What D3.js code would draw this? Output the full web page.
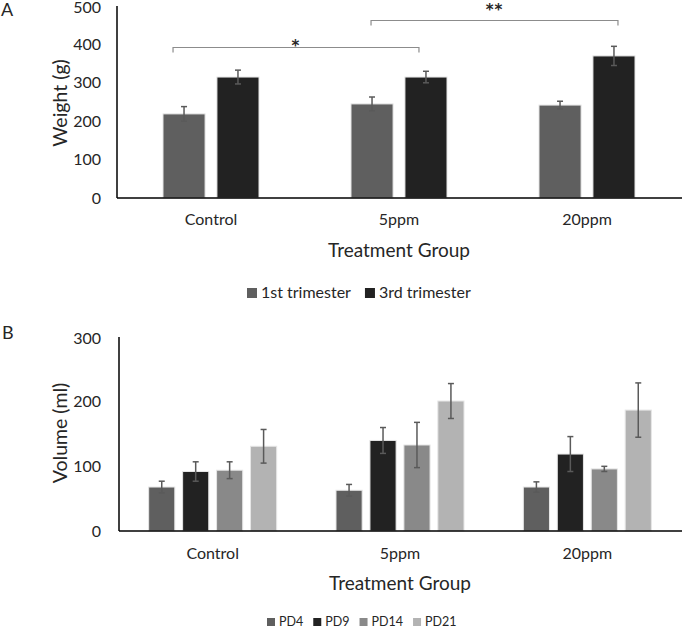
<!DOCTYPE html>
<html><head><meta charset="utf-8">
<script src="https://cdn.jsdelivr.net/npm/d3@7"></script>
<style>body{margin:0;background:#fff}svg{display:block}text{font-family:Lato,"Open Sans",sans-serif;fill:#262626}</style>
</head><body><svg id="c" width="685" height="628"></svg>
<script>
const groups = ["Control","5ppm","20ppm"];
const seriesA = ["1st trimester","3rd trimester"];
const valuesA = [[219,315],[245,315],[242,370]];
const errorsA = [[19,18],[18,15],[10,25]];
const ticksA = [0,100,200,300,400,500];
const seriesB = ["PD4","PD9","PD14","PD21"];
const valuesB = [[68,92,94,131],[63,140,133,201],[68,119,96,187]];
const errorsB = [[9,15,13,26],[9,20,35,27],[8,27,4,42]];
const ticksB = [0,100,200,300];
const sigMarks = ["*","**"];
const sigFrom = [[0,0],[1,0]];   // [group, series]
const sigTo = [[1,1],[2,1]];
const sigLevel = [393,463];
const colors = ["#5f5f5f","#222222","#898989","#b3b3b3"];

const svg = d3.select("#c");

function panel(o){
  const g = svg.append("g");
  const x = d3.scaleBand().domain(groups).range([o.left,o.right]);
  const y = d3.scaleLinear().domain([0,o.max]).range([o.bottom,o.top]);
  const inner = d3.scaleBand().domain(o.series).range([0,o.groupW]).paddingInner(o.pad);
  const barX = (gi,si)=> x(groups[gi]) + x.bandwidth()/2 - o.groupW/2 + inner(o.series[si]);
  const ya = d3.axisLeft(y).tickValues(o.ticks).tickSize(0).tickPadding(o.left-101);
  const yg = g.append("g").attr("transform",`translate(${o.left},0)`).call(ya);
  yg.select(".domain").remove();
  yg.selectAll("text").style("font-size","16px").attr("fill","#262626").style("font-family","Lato,sans-serif")
    .attr("dy", d => d===o.max ? "0.38em" : "0.32em");
  o.values.forEach((row,gi)=>{
    row.forEach((v,si)=>{
      const bx = barX(gi,si);
      g.append("rect").attr("x",bx).attr("y",y(v)).attr("width",inner.bandwidth()).attr("height",y(0)-y(v))
        .attr("fill",colors[si]).attr("stroke","#e6e6e6").attr("stroke-width",1);
      const e = o.errors[gi][si], cx = bx + inner.bandwidth()/2;
      const eg = g.append("g").attr("stroke","#5a5a5a").attr("stroke-width",1.5);
      eg.append("line").attr("x1",cx).attr("x2",cx).attr("y1",y(v+e)).attr("y2",y(v-e));
      eg.append("line").attr("x1",cx-3).attr("x2",cx+3).attr("y1",y(v+e)).attr("y2",y(v+e));
      eg.append("line").attr("x1",cx-3).attr("x2",cx+3).attr("y1",y(v-e)).attr("y2",y(v-e));
    });
  });
  g.append("line").attr("x1",o.left).attr("x2",o.left).attr("y1",y(o.max)).attr("y2",y(0)).attr("stroke","#000").attr("stroke-width",1.5);
  g.append("line").attr("x1",o.left).attr("x2",o.right+1).attr("y1",y(0)).attr("y2",y(0)).attr("stroke","#000").attr("stroke-width",1.5);
  const xa = d3.axisBottom(x).tickSize(0).tickPadding(o.xpad);
  const xg = g.append("g").attr("transform",`translate(0,${o.bottom})`).call(xa);
  xg.select(".domain").remove();
  xg.selectAll("text").style("font-size","16px").attr("fill","#262626").style("font-family","Lato,sans-serif");
  g.append("text").attr("x",(o.left+o.right)/2).attr("y",o.titleY).attr("text-anchor","middle").style("font-size","19px").text("Treatment Group");
  g.append("text").attr("transform",`translate(${o.ytX},${o.ytY}) rotate(-90)`).attr("text-anchor","middle").style("font-size","19.5px").text(o.ytitle);
  g.append("text").attr("x",o.lblX).attr("y",o.lblY).style("font-size","18px").text(o.label);
  let lx = o.legX;
  o.series.forEach((s,i)=>{
    g.append("rect").attr("x",lx).attr("y",o.legY-o.sq).attr("width",o.sq).attr("height",o.sq).attr("fill",colors[i]);
    const t = g.append("text").attr("x",lx+o.sq+4).attr("y",o.legY).style("font-size",o.legFont+"px").text(s);
    lx += o.sq + 4 + t.node().getComputedTextLength() + o.legGap;
  });
  return {x,y,g,barX,bw:inner.bandwidth()};
}

const A = panel({left:117,right:681,top:6,bottom:198,max:500,ticks:ticksA,series:seriesA,values:valuesA,errors:errorsA,
  groupW:96,pad:0.22,xpad:16,titleY:257,ytitle:"Weight (g)",ytX:67,ytY:103,label:"A",lblX:1,lblY:16,
  legX:247,legY:298,sq:10,legFont:16,legGap:14});
const B = panel({left:119,right:681,top:337,bottom:531,max:300,ticks:ticksB,series:seriesB,values:valuesB,errors:errorsB,
  groupW:128,pad:0.23,xpad:17,titleY:590,ytitle:"Volume (ml)",ytX:67,ytY:433,label:"B",lblX:2,lblY:339,
  legX:267,legY:626,sq:8,legFont:12.5,legGap:10});

// significance brackets (panel A)
const sigDx = [[-11,-7],[-1,4]];
const sigTextDy = [3, -6];
sigMarks.forEach((m,i)=>{
  const x1 = A.barX(sigFrom[i][0],sigFrom[i][1]) + A.bw/2 + sigDx[i][0];
  const x2 = A.barX(sigTo[i][0],sigTo[i][1]) + A.bw/2 + sigDx[i][1];
  const yb = Math.round(A.y(sigLevel[i]))+0.5;
  A.g.append("path").attr("d",`M${x1},${yb+5}V${yb}H${x2}V${yb+5}`).attr("fill","none").attr("stroke","#8c8c8c").attr("stroke-width",1.2);
  A.g.append("text").attr("x",(x1+x2)/2).attr("y",yb+sigTextDy[i]).attr("text-anchor","middle")
    .style("font-family","'DejaVu Sans',sans-serif").style("font-size","15px").style("font-weight","bold")
    .style("letter-spacing","1px").attr("fill","#1e1e1e").text(m);
});
</script></body></html>
